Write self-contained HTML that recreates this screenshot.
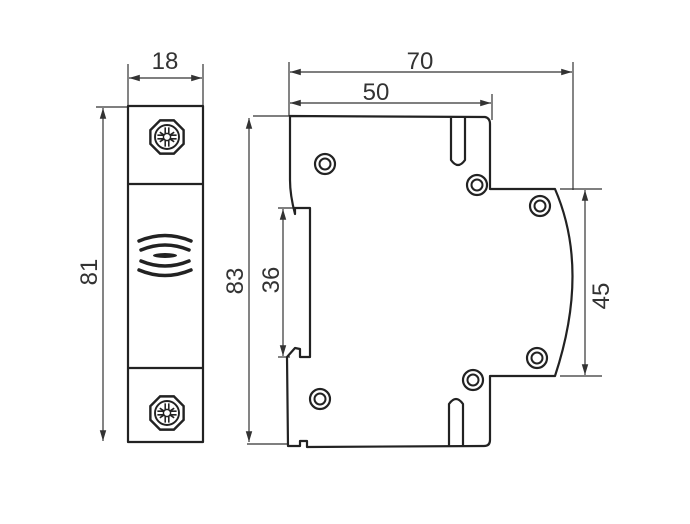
<!DOCTYPE html>
<html><head><style>body{margin:0;background:#fff}svg{display:block}text{font-family:"Liberation Sans",sans-serif;font-size:24px;fill:#333}</style></head><body>
<svg width="690" height="524" viewBox="0 0 690 524" xmlns="http://www.w3.org/2000/svg">
<defs>
<marker id="a" viewBox="0 0 10 10" refX="10" refY="5" markerWidth="9" markerHeight="9" orient="auto-start-reverse"><path d="M0,2L10,5L0,8z" fill="#333"/></marker>
<g id="scr"><polygon points="0,-15 10.6,-10.6 15,0 10.6,10.6 0,15 -10.6,10.6 -15,0 -10.6,-10.6" transform="rotate(22.5)" fill="none" stroke="#222" stroke-width="2"/><circle r="10" fill="none" stroke="#222" stroke-width="1.6"/><path d="M-8,-1.5H8M-8,1.5H8M-1.5,-8V8M1.5,-8V8M-6,-4L6,4M-6,4L6,-4" stroke="#222" stroke-width="1.3"/><circle r="3" fill="#fff" stroke="#222" stroke-width="1.2"/></g>
<g id="c"><circle r="10" fill="none" stroke="#222" stroke-width="2.2"/><circle r="5.5" fill="none" stroke="#222" stroke-width="2"/></g>
</defs>
<g stroke="#333" stroke-width="1.2" fill="none">
<line x1="128" y1="64" x2="128" y2="106"/><line x1="203" y1="64" x2="203" y2="106"/>
<line x1="129" y1="78" x2="202" y2="78" marker-start="url(#a)" marker-end="url(#a)"/>
<line x1="96" y1="107" x2="128" y2="107"/>
<line x1="103" y1="108" x2="103" y2="441" marker-start="url(#a)" marker-end="url(#a)"/>
<line x1="289" y1="62" x2="289" y2="116"/><line x1="573" y1="62" x2="573" y2="190"/><line x1="492" y1="94" x2="492" y2="120"/>
<line x1="290" y1="72" x2="572" y2="72" marker-start="url(#a)" marker-end="url(#a)"/>
<line x1="290" y1="103" x2="491" y2="103" marker-start="url(#a)" marker-end="url(#a)"/>
<line x1="253" y1="116" x2="290" y2="116"/><line x1="247" y1="444" x2="288" y2="444"/>
<line x1="249" y1="118" x2="249" y2="442" marker-start="url(#a)" marker-end="url(#a)"/>
<line x1="278" y1="208" x2="296" y2="208"/><line x1="278" y1="357" x2="290" y2="357"/>
<line x1="283" y1="209" x2="283" y2="356" marker-start="url(#a)" marker-end="url(#a)"/>
<line x1="560" y1="189" x2="602" y2="189"/><line x1="560" y1="376" x2="602" y2="376"/>
<line x1="585" y1="190" x2="585" y2="375" marker-start="url(#a)" marker-end="url(#a)"/>
</g>
<g stroke="#222" stroke-width="2.2" fill="none" stroke-linejoin="round">
<rect x="128" y="106" width="75" height="336"/>
<line x1="128" y1="184" x2="203" y2="184"/><line x1="128" y1="368" x2="203" y2="368"/>
<path d="M290,116 L485,117 Q490,118 490,124 L490,189 L555,189 Q590,270 555,376 L490,376 L490,440 Q490,446 484,446 L307,447 L307,441 L300,441 L300,446 L288,446 L287,357 L295,348 L300,349 L300,357 L310,357 L310,208 L295,208 L295,214 Q290,195 290,180 Z"/>
<path d="M451,118 L451,160 Q458,170 465,160 L465,118"/>
<path d="M449,446 L449,404 Q456,394 463,404 L463,446"/>
<g stroke-width="3.5" stroke-linecap="round">
<path d="M139,241 Q165,230 191,241"/><path d="M141,250 Q165,240 189,250"/><path d="M141,261 Q165,271 189,261"/><path d="M139,270 Q165,281 191,270"/>
</g>
<ellipse cx="165" cy="255.5" rx="12" ry="2.5" fill="#222" stroke="none"/>
</g>
<use href="#scr" transform="translate(167,137) scale(1.2)"/><use href="#scr" transform="translate(167,413) scale(1.2)"/>
<use href="#c" x="325" y="164"/><use href="#c" x="477" y="185"/><use href="#c" x="540" y="206"/>
<use href="#c" x="537" y="358"/><use href="#c" x="473" y="380"/><use href="#c" x="320" y="399"/>
<text x="165" y="69" text-anchor="middle">18</text>
<text x="420" y="69" text-anchor="middle">70</text>
<text x="376" y="100" text-anchor="middle">50</text>
<text transform="translate(97,272) rotate(-90)" text-anchor="middle">81</text>
<text transform="translate(243,281) rotate(-90)" text-anchor="middle">83</text>
<text transform="translate(279,280) rotate(-90)" text-anchor="middle">36</text>
<text transform="translate(609,296) rotate(-90)" text-anchor="middle">45</text>
</svg>
</body></html>
